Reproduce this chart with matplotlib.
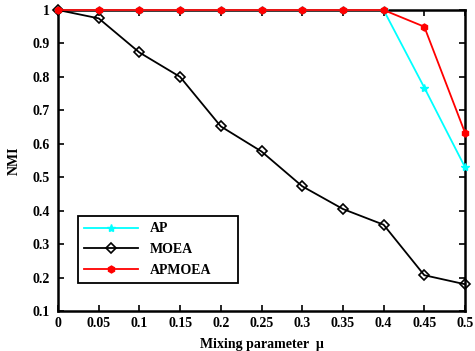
import matplotlib
matplotlib.use("Agg")
import matplotlib.pyplot as plt

plt.rcParams['font.family'] = ['Liberation Serif', 'DejaVu Serif']
plt.rcParams['font.weight'] = 'bold'

mu = [0, 0.05, 0.1, 0.15, 0.2, 0.25, 0.3, 0.35, 0.4, 0.45, 0.5]
ap = [1, 1, 1, 1, 1, 1, 1, 1, 1, 0.768, 0.53]
moea = [1, 0.975, 0.873, 0.8, 0.652, 0.577, 0.473, 0.405, 0.358, 0.207, 0.18]
apmoea = [1, 1, 1, 1, 1, 1, 1, 1, 1, 0.95, 0.633]
xticks = [0, 0.05, 0.1, 0.15, 0.2, 0.25, 0.3, 0.35, 0.4, 0.45, 0.5]
xticklabels = ['0', '0.05', '0.1', '0.15', '0.2', '0.25', '0.3', '0.35', '0.4', '0.45', '0.5']
yticks = [0.1, 0.2, 0.3, 0.4, 0.5, 0.6, 0.7, 0.8, 0.9, 1]
yticklabels = ['0.1', '0.2', '0.3', '0.4', '0.5', '0.6', '0.7', '0.8', '0.9', '1']

fig = plt.figure(figsize=(4.75, 3.51), dpi=100)
ax = fig.add_axes([58 / 475, 40 / 351, 407 / 475, 301 / 351])

ax.plot(mu, ap, color='cyan', marker='*', markersize=6, lw=1.3, label='AP',
        clip_on=False, zorder=3)
ax.plot(mu, moea, color='black', marker='D', markersize=5, markerfacecolor='none',
        markeredgewidth=1.2, lw=1.3, label='MOEA', clip_on=False, zorder=3)
ax.plot(mu, apmoea, color='red', marker='h', markersize=5, lw=1.3, label='APMOEA',
        clip_on=False, zorder=4)

ax.set_xlim(0, 0.5)
ax.set_ylim(0.1, 1)
ax.set_xticks(xticks)
ax.set_xticklabels(xticklabels)
ax.set_yticks(yticks)
ax.set_yticklabels(yticklabels)
ax.tick_params(direction='in', top=True, right=True, labelsize=10, length=4, width=1.2)
ax.tick_params(axis='y', pad=6)
ax.tick_params(axis='x', pad=4)
for s in ax.spines.values():
    s.set_linewidth(1.8)

ax.set_xlabel('Mixing parameter  \u03bc', fontsize=10, fontweight='bold', labelpad=6)
ax.set_ylabel('NMI', fontsize=10, fontweight='bold', labelpad=8)

leg = ax.legend(loc='lower left', bbox_to_anchor=(0.049, 0.093, 0.393, 0.3), mode='expand',
                borderaxespad=0, fontsize=10, fancybox=False, edgecolor='black', framealpha=1,
                handlelength=3.9, labelspacing=0.55, borderpad=0.45, handletextpad=0.8)
leg.get_frame().set_linewidth(1.3)
leg.set_zorder(5)

fig.savefig('out.png', dpi=100)
